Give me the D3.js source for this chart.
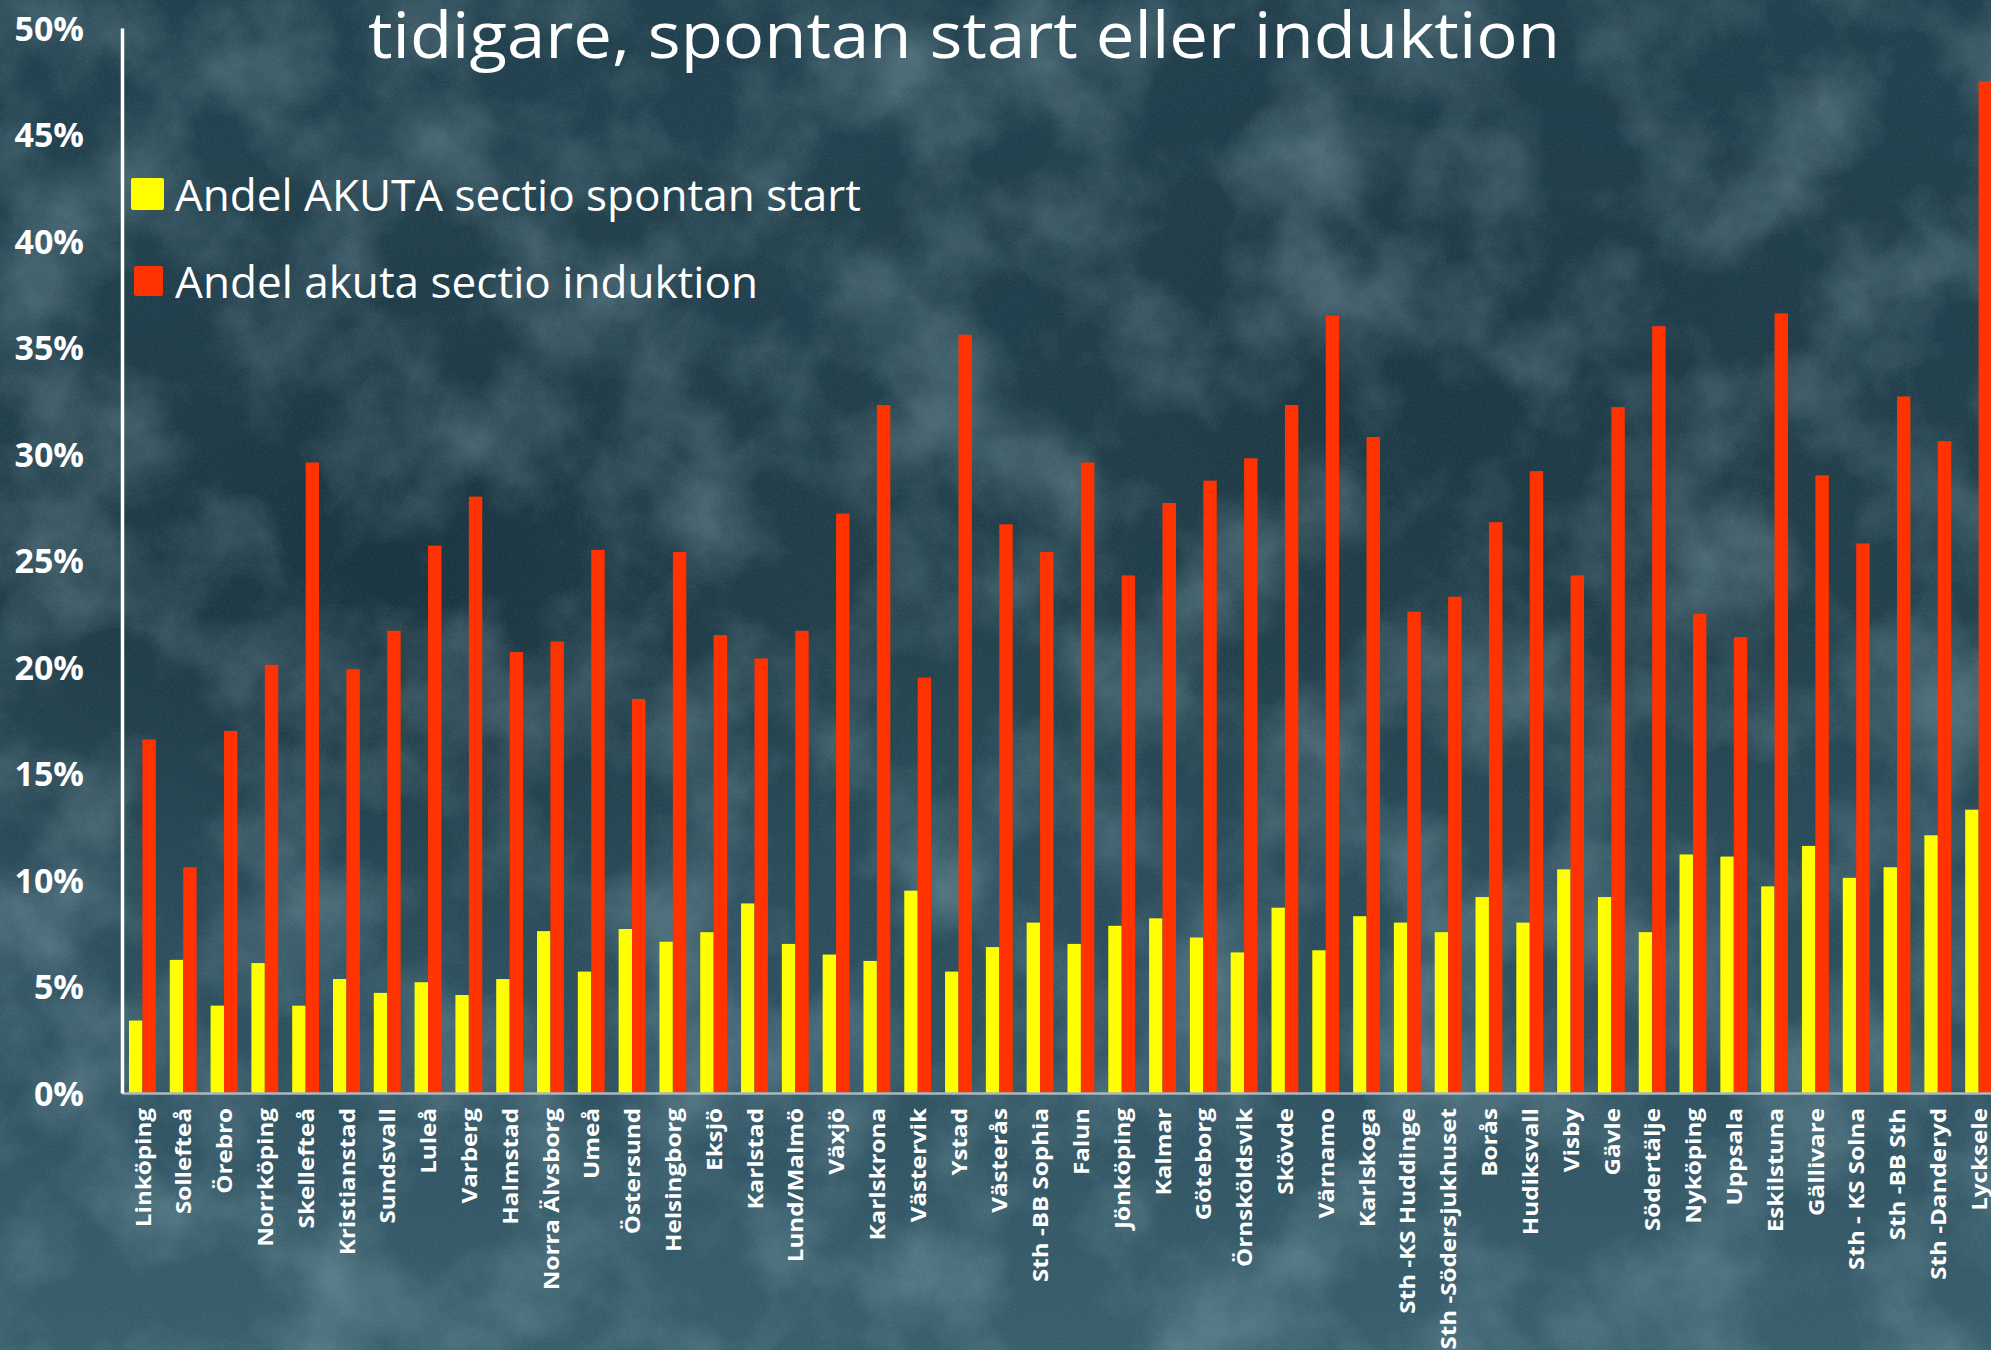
<!DOCTYPE html>
<html>
<head>
<meta charset="utf-8">
<script src="https://cdn.jsdelivr.net/npm/d3@7"></script>
<style>
  html, body { margin: 0; padding: 0; background: #263f4b; }
  svg { display: block; }
</style>
</head>
<body>
<svg id="chart" width="1991" height="1350"></svg>
<script>
const categories = ["Linköping","Sollefteå","Örebro","Norrköping","Skellefteå","Kristianstad","Sundsvall","Luleå","Varberg","Halmstad","Norra Älvsborg","Umeå","Östersund","Helsingborg","Eksjö","Karlstad","Lund/Malmö","Växjö","Karlskrona","Västervik","Ystad","Västerås","Sth -BB Sophia","Falun","Jönköping","Kalmar","Göteborg","Örnsköldsvik","Skövde","Värnamo","Karlskoga","Sth -KS Huddinge","Sth -Södersjukhuset","Borås","Hudiksvall","Visby","Gävle","Södertälje","Nyköping","Uppsala","Eskilstuna","Gällivare","Sth - KS Solna","Sth -BB Sth","Sth -Danderyd","Lycksele"];
const spontanStart = [3.4,6.25,4.1,6.1,4.1,5.35,4.7,5.2,4.6,5.35,7.6,5.7,7.7,7.1,7.55,8.9,7.0,6.5,6.2,9.5,5.7,6.85,8.0,7.0,7.85,8.2,7.3,6.6,8.7,6.7,8.3,8.0,7.55,9.2,8.0,10.5,9.2,7.55,11.2,11.1,9.7,11.6,10.1,10.6,12.1,13.3];
const induktion = [16.6,10.6,17.0,20.1,29.6,19.9,21.7,25.7,28.0,20.7,21.2,25.5,18.5,25.4,21.5,20.4,21.7,27.2,32.3,19.5,35.6,26.7,25.4,29.6,24.3,27.7,28.75,29.8,32.3,36.5,30.8,22.6,23.3,26.8,29.2,24.3,32.2,36.0,22.5,21.4,36.6,29.0,25.8,32.7,30.6,47.5];
const yTicks = [0,5,10,15,20,25,30,35,40,45,50];
const seriesKeys = ["spontan","induktion"];
const seriesNames = ["Andel AKUTA sectio spontan start","Andel akuta sectio induktion"];
const seriesColors = ["#FFFF00","#FF3300"];
const titleText = "tidigare, spontan start eller induktion";

const W = 1991, H = 1350;
const svg = d3.select("#chart");
const defs = svg.append("defs");

// background
const bg = defs.append("linearGradient").attr("id","bgGrad").attr("x1",0).attr("y1",0).attr("x2",0).attr("y2",1);
bg.append("stop").attr("offset","0%").attr("stop-color","#21404d");
bg.append("stop").attr("offset","45%").attr("stop-color","#24434f");
bg.append("stop").attr("offset","80%").attr("stop-color","#2f5261");
bg.append("stop").attr("offset","100%").attr("stop-color","#385e6c");
const dark = defs.append("radialGradient").attr("id","darkPatch").attr("cx","0.2").attr("cy","0.42").attr("r","0.3");
dark.append("stop").attr("offset","0%").attr("stop-color","#0f2530").attr("stop-opacity",0.5);
dark.append("stop").attr("offset","100%").attr("stop-color","#0f2530").attr("stop-opacity",0);
const dark2 = defs.append("radialGradient").attr("id","darkPatch2").attr("cx","0.72").attr("cy","0.3").attr("r","0.35");
dark2.append("stop").attr("offset","0%").attr("stop-color","#0f2530").attr("stop-opacity",0.35);
dark2.append("stop").attr("offset","100%").attr("stop-color","#0f2530").attr("stop-opacity",0);

const f1 = defs.append("filter").attr("id","grunge").attr("x",0).attr("y",0).attr("width","100%").attr("height","100%");
f1.append("feTurbulence").attr("type","fractalNoise").attr("baseFrequency","0.008").attr("numOctaves",6).attr("seed",7);
f1.append("feColorMatrix").attr("type","matrix").attr("values","0 0 0 0 0.42  0 0 0 0 0.6  0 0 0 0 0.66  0.7 0 0 0 -0.28");
const f2 = defs.append("filter").attr("id","grain").attr("x",0).attr("y",0).attr("width","100%").attr("height","100%");
f2.append("feTurbulence").attr("type","fractalNoise").attr("baseFrequency","0.5").attr("numOctaves",2).attr("seed",2);
f2.append("feColorMatrix").attr("type","matrix").attr("values","0 0 0 0 0.55  0 0 0 0 0.7  0 0 0 0 0.75  0.45 0 0 0 -0.17");

svg.append("rect").attr("width",W).attr("height",H).attr("fill","url(#bgGrad)");
svg.append("rect").attr("width",W).attr("height",H).attr("fill","url(#darkPatch)");
svg.append("rect").attr("width",W).attr("height",H).attr("fill","url(#darkPatch2)");
svg.append("rect").attr("width",W).attr("height",H).attr("filter","url(#grunge)");
svg.append("rect").attr("width",W).attr("height",H).attr("filter","url(#grain)").attr("opacity",0.3);

// scales
const y = d3.scaleLinear().domain([0,50]).range([1093, 28]);
const x = d3.scaleBand().domain(categories).range([122, 1999]).padding(0);
const xs = d3.scaleBand().domain(seriesKeys).range([0, x.bandwidth()]).paddingInner(0).paddingOuter(0.52);

const rows = categories.map((c,i) => ({cat:c, spontan: spontanStart[i], induktion: induktion[i]}));

// bars
const groups = svg.append("g").selectAll("g").data(rows).join("g")
  .attr("transform", d => `translate(${x(d.cat)},0)`);
groups.selectAll("rect").data(d => seriesKeys.map((k,j) => ({k, v: d[k], j}))).join("rect")
  .attr("x", d => xs(d.k))
  .attr("width", xs.bandwidth())
  .attr("y", d => y(d.v))
  .attr("height", d => y(0) - y(d.v))
  .attr("fill", d => seriesColors[d.j]);

// x axis
const xAxis = svg.append("g").attr("transform", `translate(0,${y(0)})`)
  .call(d3.axisBottom(x).tickSize(0).tickSizeOuter(0));
xAxis.select(".domain").attr("stroke","#a9b9c0").attr("stroke-width",2.5);
xAxis.selectAll("text")
  .attr("x",0).attr("y",0).attr("dy","0.37em")
  .attr("text-anchor","end")
  .attr("transform","translate(0,15) scale(1,1.1) rotate(-90)")
  .attr("fill","#ffffff")
  .attr("font-family","'Open Sans', sans-serif")
  .attr("font-weight","bold")
  .attr("font-size",22);

// y axis
const yAxis = svg.append("g").attr("transform","translate(122,0)")
  .call(d3.axisLeft(y).tickValues(yTicks).tickFormat(d => d + "%").tickSize(0).tickSizeOuter(0).tickPadding(38));
yAxis.select(".domain").attr("stroke","#ffffff").attr("stroke-width",3.5);
yAxis.selectAll("text")
  .attr("fill","#ffffff")
  .attr("font-family","'Open Sans', sans-serif")
  .attr("font-weight","bold")
  .attr("font-size",34)
  .attr("dy","0.36em");

// title
svg.append("text")
  .attr("x",368).attr("y",58)
  .attr("fill","#ffffff")
  .attr("font-family","'Open Sans', sans-serif")
  .attr("font-size",64)
  .attr("textLength",1192).attr("lengthAdjust","spacingAndGlyphs")
  .text(titleText);

// legend
const legendPos = [
  {sx:131, sy:178, sw:33, sh:32, tx:175, ty:211, tl:686},
  {sx:134, sy:266, sw:29, sh:30, tx:175, ty:298, tl:583}
];
const leg = svg.append("g");
legendPos.forEach((p,i) => {
  leg.append("rect").attr("x",p.sx).attr("y",p.sy).attr("width",p.sw).attr("height",p.sh)
    .attr("rx",2).attr("fill",seriesColors[i]);
  leg.append("text").attr("x",p.tx).attr("y",p.ty)
    .attr("fill","#ffffff")
    .attr("font-family","'Open Sans', sans-serif")
    .attr("font-size",43)
    .attr("textLength",p.tl).attr("lengthAdjust","spacingAndGlyphs")
    .text(seriesNames[i]);
});
</script>
</body>
</html>
